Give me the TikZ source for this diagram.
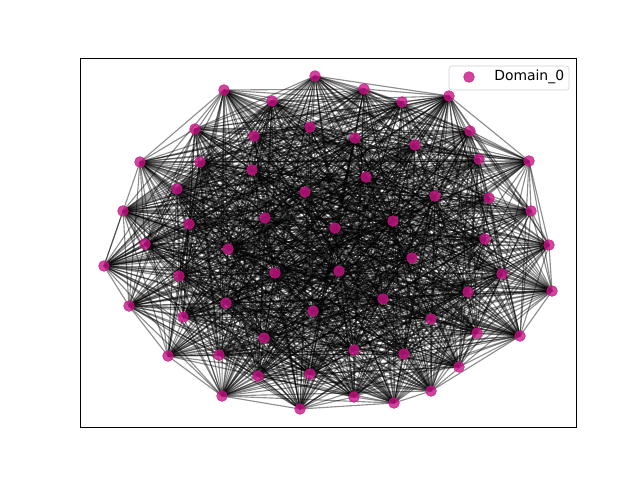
\documentclass[tikz,border=0pt]{standalone}
\usepackage{fontspec}
\setmainfont{DejaVu Sans}
\usepackage{tikz}
\usetikzlibrary{arrows,shapes}
\pgfdeclarelayer{background}
\pgfsetlayers{background,main}
\definecolor{violetred}{RGB}{199,21,133}
\tikzstyle{vertex}=[circle, draw=violetred
,fill=violetred
,opacity=0.8
,minimum size=0.27cm
,inner sep=0pt
]
\tikzstyle{edge} = [draw,line width=0.8pt,black,opacity=0.45,-]
\tikzstyle{legendbox} = [draw=black!18,rounded corners=2pt,fill=white,
  minimum width=3cm,minimum height=0.6cm,inner sep=0pt]

\begin{document}
\begin{tikzpicture}[x=0.025cm,y=-0.025cm]
    \useasboundingbox (0,0) rectangle (640,480);
    % Axes frame
    \draw[line width=0.6pt] (80,58) rectangle (576,427);
    % First we draw the vertices
    \foreach \pos/\name in {{(315,76)/v1}, {(224,90)/v2}, {(272,101)/v3},
        {(310,127)/v4}, {(195,129)/v5}, {(254,136)/v6}, {(140,162)/v7},
        {(200,162)/v8}, {(252,170)/v9}, {(177,189)/v10}, {(305,192)/v11},
        {(123,211)/v12}, {(189,224)/v13}, {(265,218)/v14}, {(145,244)/v15},
        {(364,89)/v16}, {(402,102)/v17}, {(449,96)/v18}, {(355,138)/v19},
        {(415,145)/v20}, {(470,131)/v21}, {(479,159)/v22}, {(529,161)/v23},
        {(366,177)/v24}, {(435,196)/v25}, {(489,198)/v26}, {(531,211)/v27},
        {(335,228)/v28}, {(393,221)/v29}, {(485,239)/v30}, {(549,245)/v31},
        {(228,249)/v32}, {(104,266)/v33}, {(179,276)/v34}, {(275,273)/v35},
        {(129,306)/v36}, {(226,303)/v37}, {(313,311)/v38}, {(183,317)/v39},
        {(264,338)/v40}, {(168,356)/v41}, {(219,355)/v42}, {(258,376)/v43},
        {(310,374)/v44}, {(222,396)/v45}, {(300,409)/v46}, {(412,258)/v47},
        {(339,271)/v48}, {(502,274)/v49}, {(552,291)/v50}, {(468,292)/v51},
        {(383,299)/v52}, {(431,319)/v53}, {(477,333)/v54}, {(520,336)/v55},
        {(354,350)/v56}, {(404,354)/v57}, {(459,367)/v58}, {(431,391)/v59},
        {(354,397)/v60}, {(394,403)/v61}}
        \node[vertex] (\name) at \pos {};
    % Connect vertices with edges (random pairs)
    \pgfmathsetseed{7}
    \begin{pgfonlayer}{background}
    \foreach \i [evaluate=\i as \k using int(\i+1)] in {1,...,60}
        \foreach \j in {\k,...,61}{
            \pgfmathsetmacro{\r}{rnd}
            \ifdim\r pt<0.68pt
                \path[edge] (v\i.center) -- (v\j.center);
            \fi
        }
    \end{pgfonlayer}
    % Legend
    \node[legendbox] (legend) at (509,78) {};
    \node[vertex] (key) at (469,77) {};
    \node[anchor=west,font=\fontsize{9.9}{12}\selectfont,inner sep=0pt] (keytext) at (494,77) {Domain\_0};
\end{tikzpicture}
\end{document}
